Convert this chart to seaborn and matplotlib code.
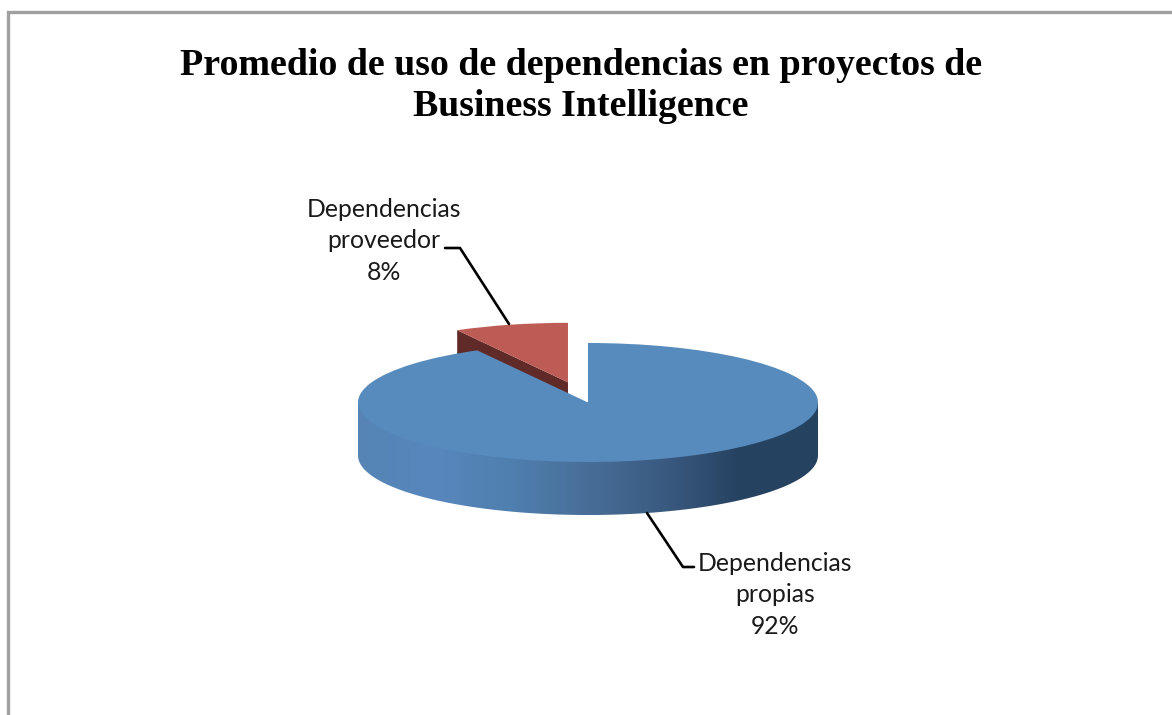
import numpy as np
import matplotlib
matplotlib.use('Agg')
import matplotlib.pyplot as plt
from matplotlib.colors import LinearSegmentedColormap
from matplotlib.lines import Line2D
from matplotlib.patches import Polygon
import seaborn as sns

title = 'Promedio de uso de dependencias en proyectos de\nBusiness Intelligence'
labels = ['Dependencias\npropias', 'Dependencias\nproveedor']
values = [92, 8]
colors = sns.color_palette(['#578abd', '#bd5b55'])
red_side = '#5f2a27'
wall_colors = ['#5584b5', '#5787bd', '#4f7fae', '#486e98', '#3a5a80', '#264261', '#264261']

W, H = 1172, 715
cx, cy, rx, ry = 588, 402.5, 230, 59.5
depth = 53 / ry
explode = [0, 0.35]

sns.set_theme(style='white')
fig = plt.figure(figsize=(W / 100, H / 100), dpi=100)
ax = fig.add_axes([0, 0, 1, 1])

# red slice goes first so the blue one covers its side
wedges, _ = ax.pie(values, explode=explode, colors=colors, startangle=90, counterclock=False,
                   wedgeprops={'linewidth': 0})
blue, red = wedges
blue.set_zorder(5)
red.set_zorder(3)

# cut face of the moved slice
c = np.array(red.center)
a = np.deg2rad(red.theta2)
corner = c + np.array([np.cos(a), np.sin(a)])
ax.add_patch(Polygon([corner, c, c - [0, depth], corner - [0, depth]], closed=True,
                     fc=red_side, ec='none', zorder=2))

# side wall of the blue slice
t = np.linspace(np.pi, 2 * np.pi, 200)
wall_pts = np.vstack([[-1, 0], np.column_stack([np.cos(t), np.sin(t) - depth]), [1, 0]])
wall = Polygon(wall_pts, closed=True, fc='none', ec='none', zorder=4)
ax.add_patch(wall)
cmap = LinearSegmentedColormap.from_list('wall', wall_colors)
im = ax.imshow(np.linspace(0, 1, 256).reshape(1, -1), cmap=cmap, extent=[-1, 1, -1 - depth, 0],
               aspect='auto', zorder=4)
im.set_clip_path(wall)

ax.set_aspect('auto')
ax.set_xlim(-cx / rx, (W - cx) / rx)
ax.set_ylim((cy - H) / ry, cy / ry)
ax.axis('off')


def px(x, y):
    return x / W, 1 - y / H


# frame
frame_x, frame_y = px(8, 12)
fig.add_artist(Line2D([frame_x, frame_x, 1], [0, frame_y, frame_y], color='#a0a0a0', lw=2.4,
                      solid_joinstyle='miter'))

x, y = px(581, 86)
fig.text(x, y, title, ha='center', va='center', family='Liberation Serif', weight='bold',
         fontsize=27.3, color='black', linespacing=1.25)

# data labels with leader lines
label_pos = [(775, 595), (384, 241)]
leaders = [[(647, 513), (683, 567), (694, 567)], [(509, 324), (460, 248), (445, 248)]]
for lab, val, pos, line in zip(labels, values, label_pos, leaders):
    x, y = px(*pos)
    fig.text(x, y, f'{lab}\n{val}%', ha='center', va='center', family='Lato', fontsize=17.8,
             color='#1a1a1a', linespacing=1.46)
    pts = [px(*p) for p in line]
    fig.add_artist(Line2D([p[0] for p in pts], [p[1] for p in pts], color='black', lw=1.9))

fig.savefig('out.png', dpi=100, facecolor='white')
